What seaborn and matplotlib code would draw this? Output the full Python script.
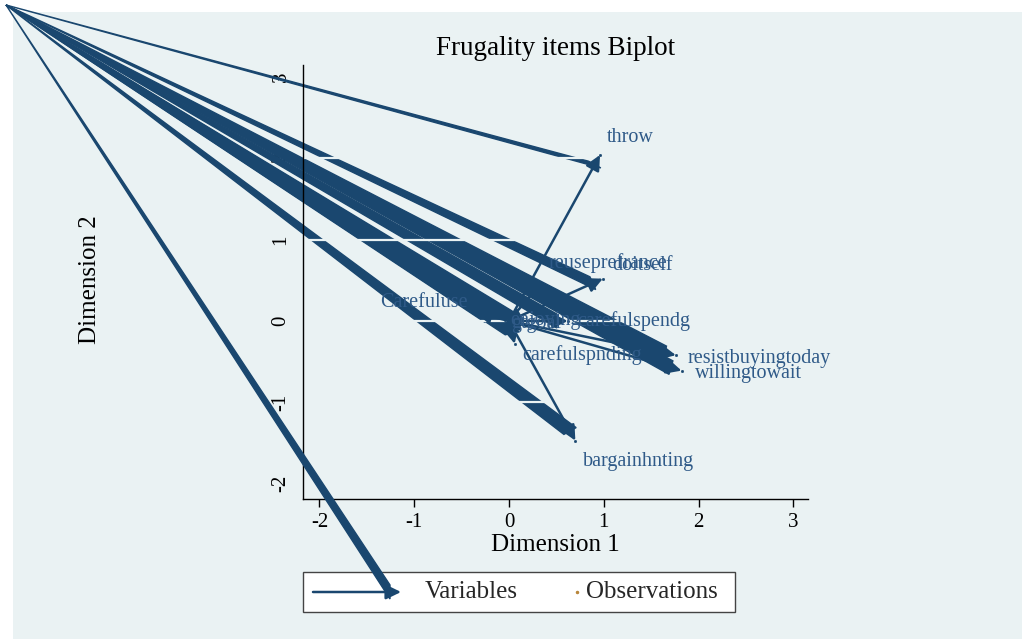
import numpy as np
import pandas as pd
import seaborn as sns
import matplotlib.pyplot as plt
from matplotlib.patches import Polygon, Rectangle, FancyArrowPatch
from matplotlib.lines import Line2D
from matplotlib.transforms import IdentityTransform

# loadings (Dimension 1, Dimension 2)
variables = ["throw", "doitself", "reuseprefrance", "Carefuluse", "enjoying",
             "gtgoal", "carefulspendg", "carefulspnding", "resistbuyingtoday",
             "willingtowait", "bargainhnting"]
dim1 = [0.96, 0.99, 0.34, -0.35, -0.04, -0.03, 0.62, 0.06, 1.76, 1.82, 0.70]
dim2 = [2.04, 0.52, 0.47, 0.10, 0.01, -0.02, 0.00, -0.28, -0.42, -0.61, -1.47]
legend_labels = ["Variables", "Observations"]
xticks = [-2, -1, 0, 1, 2, 3]
yticks = [-2, -1, 0, 1, 2, 3]

W, H = 1028, 640
NAVY = "#1a476f"
LABEL = "#2f5a88"
BG = "#eaf2f3"

# label offsets in pixels (dx, dy up) and alignment
label_off = {
    "throw": (7, 17, "left"),
    "doitself": (9, 13, "left"),
    "reuseprefrance": (7, 20, "left"),
    "Carefuluse": (-8, 10, "right"),
    "enjoying": (5, 0, "left"),
    "gtgoal": (5, -1, "left"),
    "carefulspendg": (9, 0, "left"),
    "carefulspnding": (8, -11, "left"),
    "resistbuyingtoday": (12, -3, "left"),
    "willingtowait": (13, -3, "left"),
    "bargainhnting": (8, -21, "left"),
}


def fig_xy(px, py):
    return px / W, 1 - py / H


sns.set_theme(style="white")
plt.rcParams['font.family'] = ['Liberation Serif', 'DejaVu Serif']
plt.rcParams['axes.unicode_minus'] = False

df = pd.DataFrame({"variable": variables, "dim1": dim1, "dim2": dim2})

fig = plt.figure(figsize=(W / 100, H / 100), dpi=100, facecolor="white")
fig.patches.append(Rectangle(fig_xy(13, 639), 1009 / W, 627 / H, transform=fig.transFigure,
                             facecolor=BG, edgecolor="none", zorder=-10))
ax = fig.add_axes([303 / W, 1 - 499 / H, 505 / W, 434 / H])
ax.set_facecolor(BG)

sns.scatterplot(data=df, x="dim1", y="dim2", ax=ax, s=4, color=NAVY,
                edgecolor=NAVY, legend=False, zorder=3)

for name, x, y in zip(variables, dim1, dim2):
    ax.add_patch(FancyArrowPatch((0, 0), (x, y),
                                 arrowstyle="-|>,head_length=0.45,head_width=0.22",
                                 mutation_scale=20, color=NAVY, lw=1.8,
                                 shrinkA=0, shrinkB=0, zorder=3))
    dx, dy, ha = label_off[name]
    ax.annotate(name, (x, y), xytext=(dx * 0.72, dy * 0.72), textcoords="offset points",
                ha=ha, va="center", fontsize=14.5, color=LABEL, zorder=5)

ax.set_xlim(-2.173, 3.154)
ax.set_ylim(-2.187, 3.145)
ax.set_xticks(xticks)
ax.set_yticks(yticks)
for t in yticks:
    ax.axhline(t, color=BG, lw=1.6, zorder=2.45)

for s in ["top", "right"]:
    ax.spines[s].set_visible(False)
for s in ["left", "bottom"]:
    ax.spines[s].set_color("black")
    ax.spines[s].set_linewidth(1)
ax.tick_params(axis="x", direction="out", length=6, width=1, color="black",
               labelsize=15, pad=4, labelcolor="black", bottom=True)
ax.tick_params(axis="y", length=0, pad=9, labelsize=15, labelrotation=90, labelcolor="black")
for lbl in ax.get_yticklabels():
    lbl.set_va("center")

ax.set_xlabel("Dimension 1", fontsize=18, color="black")
ax.set_ylabel("Dimension 2", fontsize=18, color="black")
ax.xaxis.set_label_coords(0.5, -0.08)
ax.yaxis.set_label_coords(-0.40, 0.505)
ax.set_title("Frugality items Biplot", fontsize=19.5, pad=7, color="black")

# wedges running from the image corner to every arrow head
corner = np.array([6.0, H - 5.0])


def wedge(tip, u, z):
    n = np.array([-u[1], u[0]])
    base = tip - 11 * u
    return Polygon([corner, base + 7 * n, base - 7 * n], closed=True,
                   transform=IdentityTransform(), facecolor=NAVY, edgecolor=NAVY,
                   lw=1, clip_on=False, zorder=z)


o = ax.transData.transform((0, 0))
for x, y in zip(dim1, dim2):
    tip = ax.transData.transform((x, y))
    u = (tip - o) / np.linalg.norm(tip - o)
    ax.add_artist(wedge(tip, u, 2.4))

# legend drawn by hand, Stata style
fig.patches.append(Rectangle(fig_xy(303, 612), 432 / W, 40 / H, transform=fig.transFigure,
                             facecolor="white", edgecolor="#444444", lw=1, zorder=1))
key_start, key_end = fig_xy(313, 592), fig_xy(401, 592)
fig.add_artist(FancyArrowPatch(key_start, key_end, transform=fig.transFigure,
                               arrowstyle="-|>,head_length=0.45,head_width=0.22",
                               mutation_scale=20, color=NAVY, lw=1.8,
                               shrinkA=0, shrinkB=0, zorder=2))
fig.add_artist(Line2D([577 / W], [1 - 592 / H], transform=fig.transFigure, marker="o",
                      markersize=1.5, color="#b8863b", lw=0, zorder=2))
fig.text(*fig_xy(425, 592), legend_labels[0], fontsize=18, va="center", ha="left", zorder=2)
fig.text(*fig_xy(586, 592), legend_labels[1], fontsize=18, va="center", ha="left", zorder=2)
fig.add_artist(wedge(np.array([401.0, H - 592.0]), np.array([1.0, 0.0]), 3))

fig.savefig("out.png", dpi=100, facecolor="white")
